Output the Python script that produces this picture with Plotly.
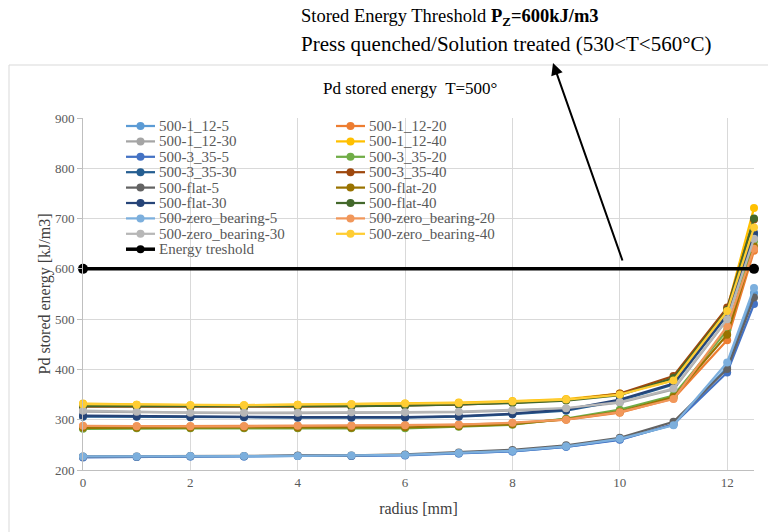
import plotly.graph_objects as go

# ---------------- data ----------------
radius = [0, 1, 2, 3, 4, 5, 6, 7, 8, 9, 10, 11, 12, 12.5]

s_1_12_5 = [226, 226, 227, 227, 228, 228, 230, 233, 237, 246, 261, 290, 405, 552]
s_1_12_20 = [287, 287, 287, 287, 288, 288, 289, 290, 293, 300, 314, 342, 458, 636]
s_1_12_30 = [316, 315, 313, 313, 313, 314, 314, 315, 318, 322, 334, 360, 499, 662]
s_1_12_40 = [332, 330, 329, 329, 330, 331, 332, 334, 337, 341, 352, 378, 520, 721]
s_3_35_5 = [225, 226, 227, 227, 228, 228, 229, 233, 237, 246, 260, 291, 394, 530]
s_3_35_20 = [282, 283, 283, 283, 283, 283, 283, 286, 290, 302, 320, 348, 478, 655]
s_3_35_30 = [306, 306, 305, 305, 304, 304, 304, 306, 311, 318, 338, 370, 508, 668]
s_3_35_40 = [326, 326, 325, 325, 326, 327, 328, 330, 334, 339, 352, 387, 523, 698]
s_flat_5 = [227, 227, 228, 228, 229, 229, 231, 235, 240, 249, 264, 296, 401, 543]
s_flat_20 = [284, 284, 284, 284, 284, 284, 285, 287, 291, 301, 316, 345, 469, 645]
s_flat_30 = [308, 307, 306, 306, 305, 305, 305, 307, 312, 320, 340, 372, 510, 672]
s_flat_40 = [327, 327, 326, 326, 326, 327, 328, 330, 333, 338, 349, 383, 518, 700]
s_zb_5 = [227, 227, 228, 228, 228, 229, 230, 234, 238, 247, 262, 289, 414, 562]
s_zb_20 = [288, 287, 287, 287, 288, 288, 289, 290, 294, 300, 315, 341, 486, 640]
s_zb_30 = [318, 316, 314, 314, 314, 315, 315, 316, 319, 323, 335, 362, 500, 660]
s_zb_40 = [331, 330, 329, 329, 330, 331, 332, 333, 336, 340, 350, 378, 516, 682]

threshold_x = [0, 12.5]
threshold_y = [600, 600]

series_names = [
    "500-1_12-5", "500-1_12-20", "500-1_12-30", "500-1_12-40",
    "500-3_35-5", "500-3_35-20", "500-3_35-30", "500-3_35-40",
    "500-flat-5", "500-flat-20", "500-flat-30", "500-flat-40",
    "500-zero_bearing-5", "500-zero_bearing-20", "500-zero_bearing-30", "500-zero_bearing-40",
]
series_values = [
    s_1_12_5, s_1_12_20, s_1_12_30, s_1_12_40,
    s_3_35_5, s_3_35_20, s_3_35_30, s_3_35_40,
    s_flat_5, s_flat_20, s_flat_30, s_flat_40,
    s_zb_5, s_zb_20, s_zb_30, s_zb_40,
]
series_colors = [
    "#5B9BD5", "#ED7D31", "#A5A5A5", "#FFC000",
    "#4472C4", "#70AD47", "#255E91", "#9E480E",
    "#636363", "#997300", "#264478", "#43682B",
    "#7CAFDD", "#F1975A", "#B7B7B7", "#FFCD33",
]
threshold_name = "Energy treshold"

# ---------------- geometry ----------------
W, H = 768, 532
ML, MR, MT, MB = 83, 14, 118, 62
PW, PH = W - ML - MR, H - MT - MB


def px(x):
    return (x - ML) / PW


def py(y):
    return (MT + PH - y) / PH


SERIF = "Liberation Serif, Times New Roman, serif"
GREY = "#595959"

fig = go.Figure()

for name, vals, col in zip(series_names, series_values, series_colors):
    fig.add_trace(go.Scatter(
        x=radius, y=vals, name=name, mode="lines+markers",
        line=dict(color=col, width=2.25),
        marker=dict(color=col, size=8),
        cliponaxis=False, showlegend=False,
    ))

fig.add_trace(go.Scatter(
    x=threshold_x, y=threshold_y, name=threshold_name, mode="lines+markers",
    line=dict(color="#000000", width=3.5),
    marker=dict(color="#000000", size=10),
    cliponaxis=False, showlegend=False,
))

shapes = []
annotations = []

# chart-area border
shapes.append(dict(type="rect", xref="paper", yref="paper",
                   x0=px(9), x1=px(772), y0=py(545), y1=py(65),
                   line=dict(color="#D9D9D9", width=1), fillcolor="rgba(0,0,0,0)",
                   layer="below"))

# custom two-column legend (Excel row-major order)
leg_names = series_names + [threshold_name]
leg_colors = series_colors + ["#000000"]
col_x = [126, 336]
row_y0, row_dy = 126, 15.4
for k, (nm, col) in enumerate(zip(leg_names, leg_colors)):
    r, c = divmod(k, 2)
    yy = row_y0 + r * row_dy
    x0 = col_x[c]
    lw = 3.5 if nm == threshold_name else 2.25
    shapes.append(dict(type="line", xref="paper", yref="paper",
                       x0=px(x0), x1=px(x0 + 29), y0=py(yy), y1=py(yy),
                       line=dict(color=col, width=lw)))
    rad = 4
    shapes.append(dict(type="circle", xref="paper", yref="paper",
                       x0=px(x0 + 14.5 - rad), x1=px(x0 + 14.5 + rad),
                       y0=py(yy + rad), y1=py(yy - rad),
                       line=dict(color=col, width=0), fillcolor=col))
    annotations.append(dict(text=nm, xref="paper", yref="paper",
                            x=px(x0 + 31), y=py(yy), xanchor="left", yanchor="middle",
                            showarrow=False,
                            font=dict(family=SERIF, size=15, color=GREY)))

# chart title
annotations.append(dict(text="Pd stored energy&nbsp; T=500°", xref="paper", yref="paper",
                        x=px(410), y=py(88), xanchor="center", yanchor="middle",
                        showarrow=False, font=dict(family=SERIF, size=17, color="#000000")))

# top explanatory text
annotations.append(dict(text="Stored Energy Threshold <b>P<sub>Z</sub>=600kJ/m3</b>",
                        xref="paper", yref="paper", x=px(299), y=py(17),
                        xanchor="left", yanchor="middle", showarrow=False,
                        font=dict(family=SERIF, size=18.5, color="#000000")))
annotations.append(dict(text="Press quenched/Solution treated (530&lt;T&lt;560°C)",
                        xref="paper", yref="paper", x=px(299), y=py(44),
                        xanchor="left", yanchor="middle", showarrow=False,
                        font=dict(family=SERIF, size=21, color="#000000")))

# arrow
tip = (553, 63)
tail = (623, 262)
annotations.append(dict(text="", xref="paper", yref="paper",
                        x=px(tip[0]), y=py(tip[1]),
                        ax=tail[0] - tip[0], ay=tail[1] - tip[1],
                        showarrow=True, arrowhead=2, arrowsize=1.2, arrowwidth=2,
                        arrowcolor="#000000", standoff=0, startstandoff=0))

fig.update_layout(
    width=W, height=H,
    margin=dict(l=ML, r=MR, t=MT, b=MB, autoexpand=False),
    paper_bgcolor="white", plot_bgcolor="white",
    showlegend=False,
    shapes=shapes, annotations=annotations,
    font=dict(family=SERIF, color=GREY),
)

fig.update_xaxes(
    range=[0, 12.5], dtick=2, tick0=0,
    showgrid=True, gridcolor="#D9D9D9", gridwidth=1,
    showline=True, linecolor="#BFBFBF", linewidth=1,
    zeroline=False, ticks="",
    tickfont=dict(family=SERIF, size=13, color=GREY),
    title=dict(text="radius [mm]", font=dict(family=SERIF, size=16, color="#404040"), standoff=14),
    automargin=False,
)
fig.update_yaxes(
    range=[200, 900], dtick=100, tick0=200,
    showgrid=True, gridcolor="#D9D9D9", gridwidth=1,
    showline=True, linecolor="#BFBFBF", linewidth=1,
    zeroline=False, ticks="outside", ticklen=5, tickcolor="#BFBFBF",
    tickfont=dict(family=SERIF, size=13, color=GREY),
    title=dict(text="Pd stored energy [kJ/m3]", font=dict(family=SERIF, size=16, color="#404040"), standoff=0),
    automargin=False,
)

fig.write_html("out.html")
